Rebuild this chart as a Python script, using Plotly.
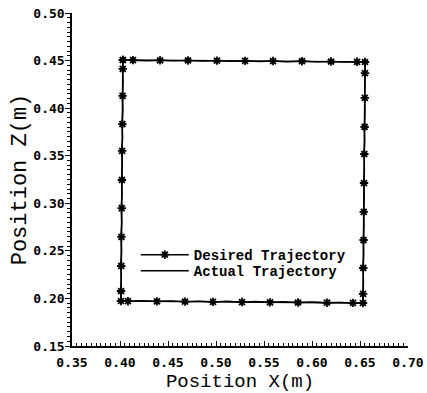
import plotly.graph_objects as go

# Desired trajectory, path: top-left -> right -> down -> left -> up
desired_x = [0.403, 0.4135, 0.4417, 0.4708, 0.5010, 0.5302, 0.5594, 0.5896, 0.6198, 0.6469, 0.6552,
             0.6552, 0.6550, 0.6548, 0.6545, 0.6542, 0.6539, 0.6537, 0.6534, 0.6532, 0.6531,
             0.6427, 0.6156, 0.5854, 0.5563, 0.5271, 0.4969, 0.4677, 0.4385, 0.4083, 0.4010,
             0.4011, 0.4013, 0.4015, 0.4018, 0.4020, 0.4022, 0.4025, 0.4027, 0.4029, 0.403]
desired_z = [0.4506, 0.4505, 0.4503, 0.4501, 0.4499, 0.4497, 0.4495, 0.4493, 0.4490, 0.4487, 0.4485,
             0.4369, 0.4107, 0.3802, 0.3518, 0.3213, 0.2909, 0.2614, 0.2320, 0.2047, 0.1952,
             0.1953, 0.1955, 0.1957, 0.1959, 0.1962, 0.1964, 0.1966, 0.1969, 0.1971, 0.1973,
             0.2078, 0.2341, 0.2646, 0.2950, 0.3245, 0.3550, 0.3833, 0.4128, 0.4412, 0.4506]

# Actual trajectory
actual_x = [0.403, 0.420, 0.428, 0.442, 0.456, 0.471, 0.486, 0.501, 0.515, 0.530, 0.545, 0.559, 0.574,
            0.590, 0.605, 0.620, 0.634, 0.647, 0.6552,
            0.6555, 0.6550, 0.6548, 0.6552, 0.6545, 0.6549, 0.6542, 0.6546, 0.6540, 0.6544, 0.6537,
            0.6541, 0.6535, 0.6538, 0.6532, 0.6536, 0.6531, 0.6531,
            0.643, 0.629, 0.616, 0.600, 0.585, 0.570, 0.556, 0.541, 0.527, 0.512, 0.497, 0.482,
            0.468, 0.453, 0.438, 0.423, 0.408, 0.401,
            0.4008, 0.4014, 0.4007, 0.4016, 0.4010, 0.4019, 0.4012, 0.4021, 0.4015, 0.4024, 0.4018,
            0.4027, 0.4021, 0.4030, 0.4024, 0.4032, 0.4026, 0.403]
actual_z = [0.4506, 0.4500, 0.4498, 0.4503, 0.4497, 0.4502, 0.4494, 0.4500, 0.4493, 0.4498, 0.4490,
            0.4496, 0.4488, 0.4495, 0.4486, 0.4492, 0.4484, 0.4490, 0.4485,
            0.440, 0.425, 0.411, 0.395, 0.380, 0.366, 0.352, 0.336, 0.321, 0.306, 0.291,
            0.276, 0.261, 0.246, 0.232, 0.218, 0.205, 0.1952,
            0.1950, 0.1958, 0.1952, 0.1962, 0.1956, 0.1966, 0.1958, 0.1968, 0.1960, 0.1970, 0.1962,
            0.1972, 0.1964, 0.1974, 0.1968, 0.1977, 0.1970, 0.1973,
            0.208, 0.221, 0.234, 0.249, 0.265, 0.280, 0.295, 0.310, 0.325, 0.340, 0.355,
            0.369, 0.383, 0.398, 0.413, 0.427, 0.441, 0.4506]

x_ticks = [0.35, 0.40, 0.45, 0.50, 0.55, 0.60, 0.65, 0.70]
x_labels = ["0.35", "0.40", "0.45", "0.50", "0.55", "0.60", "0.65", "0.70"]
y_ticks = [0.15, 0.20, 0.25, 0.30, 0.35, 0.40, 0.45, 0.50]
y_labels = ["0.15", "0.20", "0.25", "0.30", "0.35", "0.40", "0.45", "0.50"]
x_minor = [round(0.35 + 0.005 * i, 3) for i in range(71)]
y_minor = [round(0.15 + 0.005 * i, 3) for i in range(71)]

fig = go.Figure()
fig.add_trace(go.Scatter(
    x=desired_x, y=desired_z, mode="lines+markers", name="Desired Trajectory",
    line=dict(color="black", width=1.6),
    marker=dict(symbol="asterisk-open", size=7, color="black", line=dict(color="black", width=1.8)),
    legend="legend",
))
fig.add_trace(go.Scatter(
    x=actual_x, y=actual_z, mode="lines", name="Actual Trajectory",
    line=dict(color="black", width=1.4),
    legend="legend2",
))

tickfont = dict(family="DejaVu Sans Mono", size=13, color="black", weight="bold")
legfont = dict(family="Liberation Mono", size=14, color="black", weight="bold")

fig.update_layout(
    width=427, height=393,
    margin=dict(l=72, r=19, t=13, b=47),
    paper_bgcolor="white", plot_bgcolor="white",
    showlegend=True,
    legend=dict(x=0.19, y=0.321, xanchor="left", yanchor="top",
                bgcolor="rgba(0,0,0,0)", borderwidth=0, font=legfont, itemwidth=48),
    legend2=dict(x=0.19, y=0.273, xanchor="left", yanchor="top",
                 bgcolor="rgba(0,0,0,0)", borderwidth=0, font=legfont, itemwidth=48),
)
fig.update_xaxes(
    range=[0.35, 0.70], tickvals=x_ticks, ticktext=x_labels, automargin=False,
    showgrid=False, zeroline=False, showline=True, linecolor="black", linewidth=1.5,
    ticks="inside", ticklen=5, tickwidth=1, tickcolor="black",
    minor=dict(tickmode="array", tickvals=x_minor, ticks="inside", ticklen=3, tickwidth=1,
               tickcolor="black", showgrid=False),
    tickfont=tickfont, ticklabelstandoff=4,
    title=dict(text="Position X(m)", font=dict(family="Liberation Mono", size=19, color="black"), standoff=10),
)
fig.update_yaxes(
    range=[0.15, 0.50], tickvals=y_ticks, ticktext=y_labels, automargin=False,
    showgrid=False, zeroline=False, showline=True, linecolor="black", linewidth=1.5,
    ticks="outside", ticklen=5, tickwidth=1, tickcolor="black",
    minor=dict(tickmode="array", tickvals=y_minor, ticks="outside", ticklen=3, tickwidth=1,
               tickcolor="black", showgrid=False),
    tickfont=tickfont, ticklabelstandoff=-2,
    title=dict(text="Position Z(m)", font=dict(family="Liberation Mono", size=22, color="black"), standoff=0),
)

fig.write_html("out.html")
